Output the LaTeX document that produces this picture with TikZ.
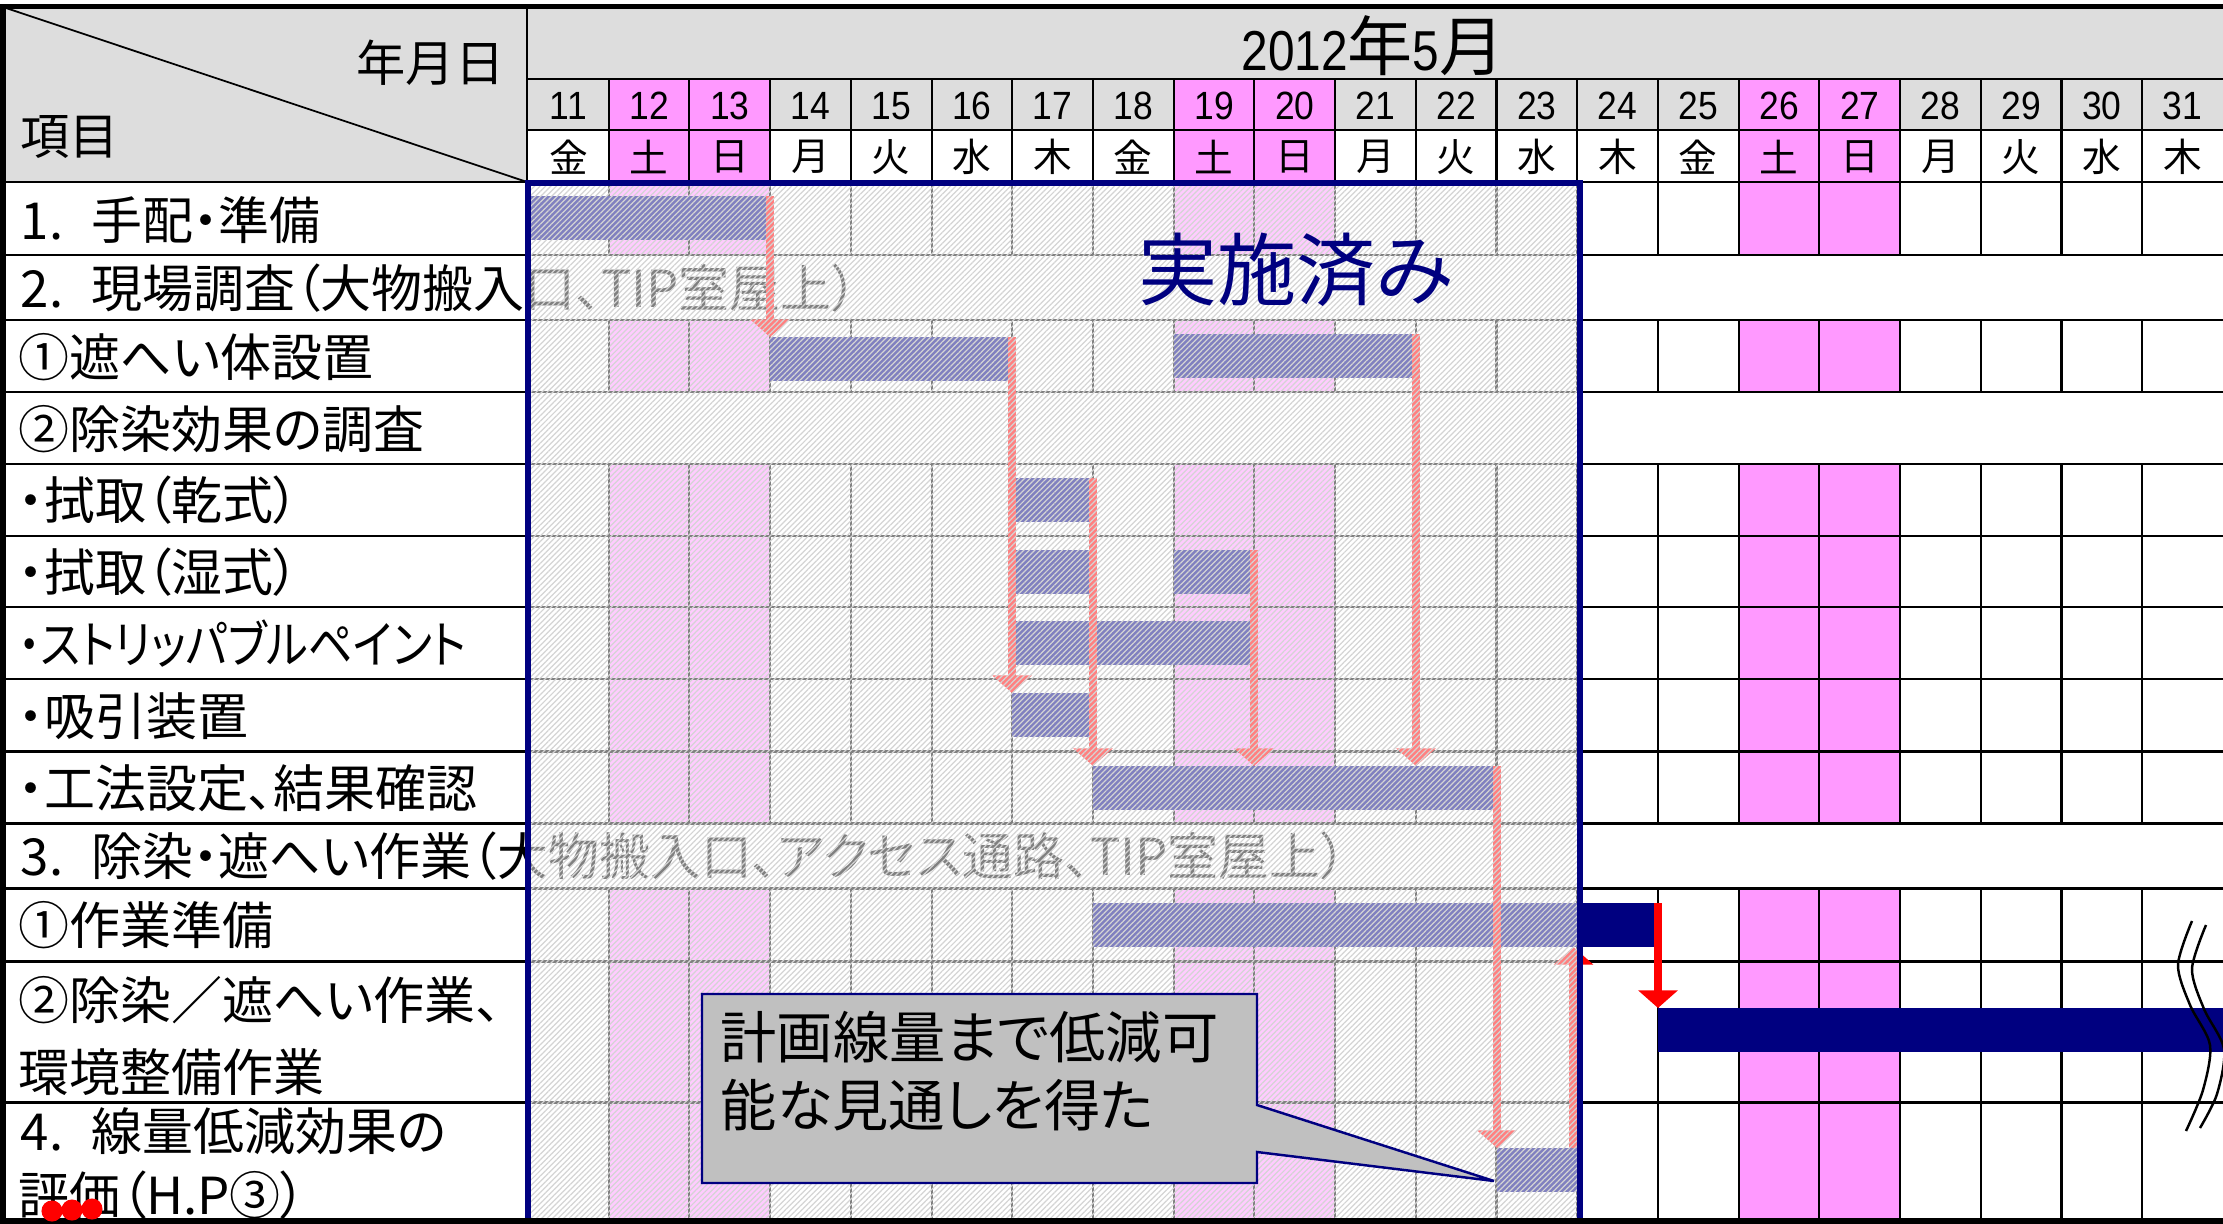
\documentclass[tikz,border=0pt]{standalone}
\usepackage{graphicx}
\usepackage{fontspec}
\setmainfont{Noto Sans CJK JP}[RawFeature={+palt}]
\newfontfamily\arialf{Liberation Sans}
\usetikzlibrary{arrows.meta,patterns.meta,fit}
\definecolor{navyc}{RGB}{0,0,128}
\definecolor{magc}{HTML}{FF99FF}
\definecolor{hdrgrey}{HTML}{DDDDDD}
\definecolor{callgrey}{HTML}{C0C0C0}
\definecolor{hatchc}{HTML}{D4D4D4}
\newcommand\gbar[5]{%
  \coordinate (#1nw) at (#2,#4);
  \coordinate (#1se) at (#3,#5);
  \node[barnode,fit=(#1nw)(#1se)] (#1) {};}
\begin{document}
\begin{tikzpicture}[x=0.01cm,y=-0.01cm,
  lbl/.style={anchor=west,inner sep=0pt,font=\fontsize{14.5}{17}\selectfont},
  numtxt/.style={inner sep=0pt,font=\arialf\fontsize{11.2}{13}\selectfont},
  daytxt/.style={inner sep=0pt,font=\fontsize{11}{13}\selectfont},
  barnode/.style={inner sep=0pt,outer sep=0pt,fill=navyc,draw=none},
  redarr/.style={draw=red,line width=2.4pt,-{Triangle[width=11pt,length=5pt]}},
  gridv/.style={line width=0.6pt,black},
  gridh/.style={line width=0.85pt,black}]
\useasboundingbox (0,0) rectangle (2223,1224);
\fill[white] (0,0) rectangle (2223,1224);
% ---------- header fills
\fill[hdrgrey] (3,7) rectangle (527,182);
\fill[hdrgrey] (527,7) rectangle (2223,130);
% ---------- weekend columns
\foreach \d in {12,13,19,20,26,27}{
  \pgfmathsetmacro\xa{528+(\d-11)*80.71}
  \pgfmathsetmacro\xb{\xa+80.71}
  \fill[magc] (\xa,79) rectangle (\xb,182);
  \foreach \ya/\yb in {182/255,320/392,464/823,888/1222}
    \fill[magc] (\xa,\ya) rectangle (\xb,\yb);
}
% ---------- header lines
\draw[line width=0.5pt] (3,7) -- (527,182);
\draw[gridv] (527,7) -- (527,182);
\draw[gridv] (527,79) -- (2223,79);
\draw[gridv] (527,130) -- (2223,130);
\foreach \i in {1,...,20}{
  \pgfmathsetmacro\xa{528+\i*80.71}
  \draw[gridv] (\xa,79) -- (\xa,182);
  \foreach \ya/\yb in {182/255,320/392,464/823,888/1222}
    \draw[gridv] (\xa,\ya) -- (\xa,\yb);
}
\foreach \y in {255,320,392,464,536,607,679,751,823,888,961,1102}
  \draw[gridh] (3,\y) -- (2223,\y);
\draw[gridh] (3,182) -- (2223,182);
% ---------- header texts
\node[anchor=east,inner sep=0pt,font=\fontsize{14}{16}\selectfont] (ymd) at (505,63) {年月日};
\node[anchor=west,inner sep=0pt,font=\fontsize{14}{16}\selectfont] (item) at (20,137) {項目};
\node[inner sep=0pt] (month) at (1373,46) {\fontsize{18.5}{22}\selectfont\scalebox{0.85}[1]{\arialf\fontsize{16}{18}\selectfont 2012}年\scalebox{0.85}[1]{\arialf\fontsize{16}{18}\selectfont 5}月};
\foreach \d/\w [count=\i from 0] in {11/金,12/土,13/日,14/月,15/火,16/水,17/木,18/金,19/土,20/日,21/月,22/火,23/水,24/木,25/金,26/土,27/日,28/月,29/火,30/水,31/木}{
  \pgfmathsetmacro\xc{528+(\i+0.5)*80.71}
  \node[numtxt] (n\d) at (\xc,106) {\scalebox{0.9}[1]{\d}};
  \node[daytxt] (w\d) at (\xc,157) {\w};
}
% ---------- row labels
\node[lbl] (l1) at (20,220) {1.\hspace{0.55em}手配・準備};
\node[lbl] (l2) at (20,288) {2.\hspace{0.55em}現場調査（大物搬入口、TIP室屋上）};
\node[lbl] (l3) at (18,357) {①遮へい体設置};
\node[lbl] (l4) at (18,429) {②除染効果の調査};
\node[lbl] (l5) at (18,500) {・拭取（乾式）};
\node[lbl] (l6) at (18,572) {・拭取（湿式）};
\node[lbl] (l7) at (18,644) {\scalebox{0.87}[1]{・ストリッパブルペイント}};
\node[lbl] (l8) at (18,716) {・吸引装置};
\node[lbl] (l9) at (18,788) {・工法設定、結果確認};
\node[lbl] (l10) at (20,856) {3.\hspace{0.55em}除染・遮へい作業（大物搬入口、アクセス通路、TIP室屋上）};
\node[lbl] (l11) at (18,925) {①作業準備};
\node[lbl] (l12a) at (18,1000) {②除染／遮へい作業、};
\node[lbl] (l12b) at (18,1072) {環境整備作業};
\node[lbl] (l13a) at (20,1131) {4.\hspace{0.55em}線量低減効果の};
\node[lbl] (l13b) at (18,1195) {評価（H.P③）};
% ---------- bars
\gbar{b1}{531}{767}{196}{240}
\gbar{b3a}{770}{1012}{337}{381}
\gbar{b3b}{1174}{1416}{334}{378}
\gbar{b5}{1013}{1093}{478}{522}
\gbar{b6a}{1013}{1093}{550}{594}
\gbar{b6b}{1174}{1254}{550}{594}
\gbar{b7}{1013}{1254}{621}{665}
\gbar{b8}{1012}{1093}{693}{737}
\gbar{b9}{1093}{1497}{766}{810}
\gbar{b11}{1093}{1655}{903}{947}
\gbar{b12}{1658}{2223}{1008}{1052}
\gbar{b13}{1497}{1577}{1148}{1192}
% ---------- arrows
\draw[redarr] (b3a.north west |- b1.north) -- (b3a.north west);
\draw[redarr] (b3a.north east) -- (b3a.north east |- b8.north);
\draw[redarr] (b5.north east) -- (b5.north east |- b9.north);
\draw[redarr] (b6b.north east) -- (b6b.north east |- b9.north);
\draw[redarr] (b3b.north east) -- (b3b.north east |- b9.north);
\draw[redarr] (b9.north east) -- (b9.north east |- b13.north);
\draw[redarr,transform canvas={xshift=-1pt}] (b13.north east) -- (b13.north east |- b11.south);
\draw[redarr] (b12.north west |- b11.north) -- (b12.north west);
% ---------- done overlay
\fill[white,fill opacity=0.5] (528,183) rectangle (1580,1221);
\fill[pattern={Lines[angle=45,distance=1.1pt,line width=0.35pt]},pattern color=hatchc] (528,183) rectangle (1580,1221);
\draw[navyc,line width=1.6pt] (528,183) rectangle (1580,1221);
\node[inner sep=0pt,text=navyc,font=\fontsize{22.5}{26}\selectfont] (done) at (1296,270) {実施済み};
% ---------- outer frame
\draw[line width=1.5pt] (2223,6.5) -- (3,6.5) -- (3,1221) -- (2223,1221);
% ---------- callout
\coordinate (ctip) at (1494,1181);
\draw[fill=callgrey,draw=navyc,line width=0.7pt] (702,994) -- (1257,994) -- (1257,1105) -- (ctip) -- (1257,1152) -- (1257,1183) -- (702,1183) -- cycle;
\node[anchor=west,align=left,inner sep=0pt,font=\fontsize{16}{19.3}\selectfont] (ctext) at (720,1071) {計画線量まで低減可\\能な見通しを得た};
% ---------- break marks
\draw[line width=0.7pt] plot[smooth] coordinates {(2192,921) (2178,965) (2190,1005) (2210,1045) (2203,1090) (2186,1131)};
\draw[line width=0.7pt] plot[smooth] coordinates {(2206,925) (2192,969) (2204,1009) (2224,1049) (2217,1094) (2200,1128)};
% ---------- red marks
\fill[red] (52,1211) circle[radius=3pt] (72,1210) circle[radius=3pt] (92,1209) circle[radius=3pt];
\end{tikzpicture}
\end{document}
